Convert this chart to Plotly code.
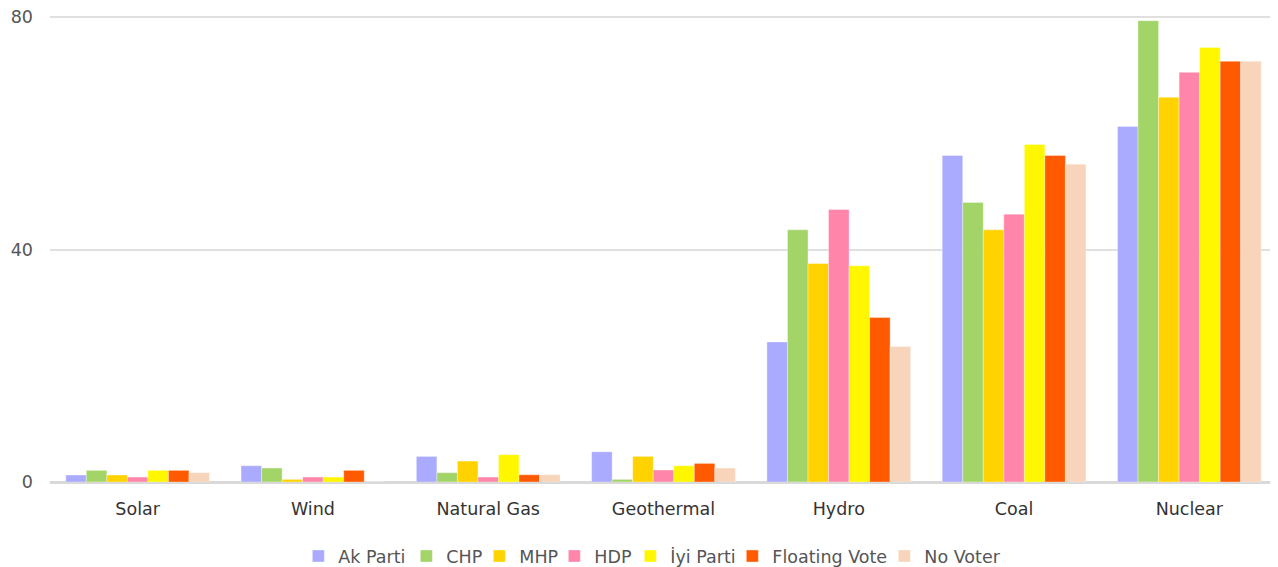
import plotly.graph_objects as go

categories = ["Solar", "Wind", "Natural Gas", "Geothermal", "Hydro", "Coal", "Nuclear"]
series_names = ["Ak Parti", "CHP", "MHP", "HDP", "İyi Parti", "Floating Vote", "No Voter"]

ak_parti = [1.2, 2.8, 4.4, 5.2, 24.1, 56.2, 61.2]
chp = [2.0, 2.4, 1.6, 0.45, 43.4, 48.1, 79.4]
mhp = [1.2, 0.45, 3.6, 4.4, 37.6, 43.4, 66.2]
hdp = [0.85, 0.85, 0.85, 2.07, 46.9, 46.1, 70.5]
iyi_parti = [2.0, 0.85, 4.7, 2.8, 37.2, 58.1, 74.8]
floating_vote = [2.0, 2.0, 1.25, 3.2, 28.3, 56.2, 72.4]
no_voter = [1.6, 0.0, 1.25, 2.4, 23.3, 54.7, 72.4]

y_ticks = [0, 40, 80]

series_values = [ak_parti, chp, mhp, hdp, iyi_parti, floating_vote, no_voter]
colors = ["#aaaaff", "#a2d468", "#ffd200", "#ff85aa", "#fff700", "#ff5a00", "#f7d4ba"]
legend_widths = [63, 28, 30, 31, 57, 107, 75]

fig = go.Figure()
for name, vals, col, lw in zip(series_names, series_values, colors, legend_widths):
    fig.add_trace(go.Bar(
        name=name, x=categories, y=vals, legendwidth=lw,
        marker=dict(color=col, line=dict(color="rgba(255,255,255,0.35)", width=1)),
    ))

fig.update_layout(
    width=1270, height=559,
    barmode="group", bargap=0.18, bargroupgap=0,
    paper_bgcolor="white", plot_bgcolor="white",
    margin=dict(l=42, r=1, t=8, b=85, autoexpand=False),
    font=dict(family="DejaVu Sans", size=17.5, color="#333333"),
    showlegend=True,
    legend=dict(orientation="h", x=0.2024, xanchor="left", y=-0.159, yanchor="middle",
                font=dict(size=17.5, color="#555555"), itemwidth=30,
                traceorder="normal"),
    xaxis=dict(showgrid=False, showline=False, ticks="", automargin=False,
               ticklabelstandoff=14,
               tickfont=dict(size=17.5, color="#333333")),
    yaxis=dict(range=[0, 80.2], tickvals=y_ticks, showgrid=True, gridcolor="#e0e0e0",
               gridwidth=2, zeroline=True, zerolinecolor="#d9d9d9", zerolinewidth=3,
               showline=False, ticklabelstandoff=16, automargin=False,
               ticklabeloverflow="allow",
               tickfont=dict(size=17.5, color="#555555")),
)

fig.write_html("out.html")
